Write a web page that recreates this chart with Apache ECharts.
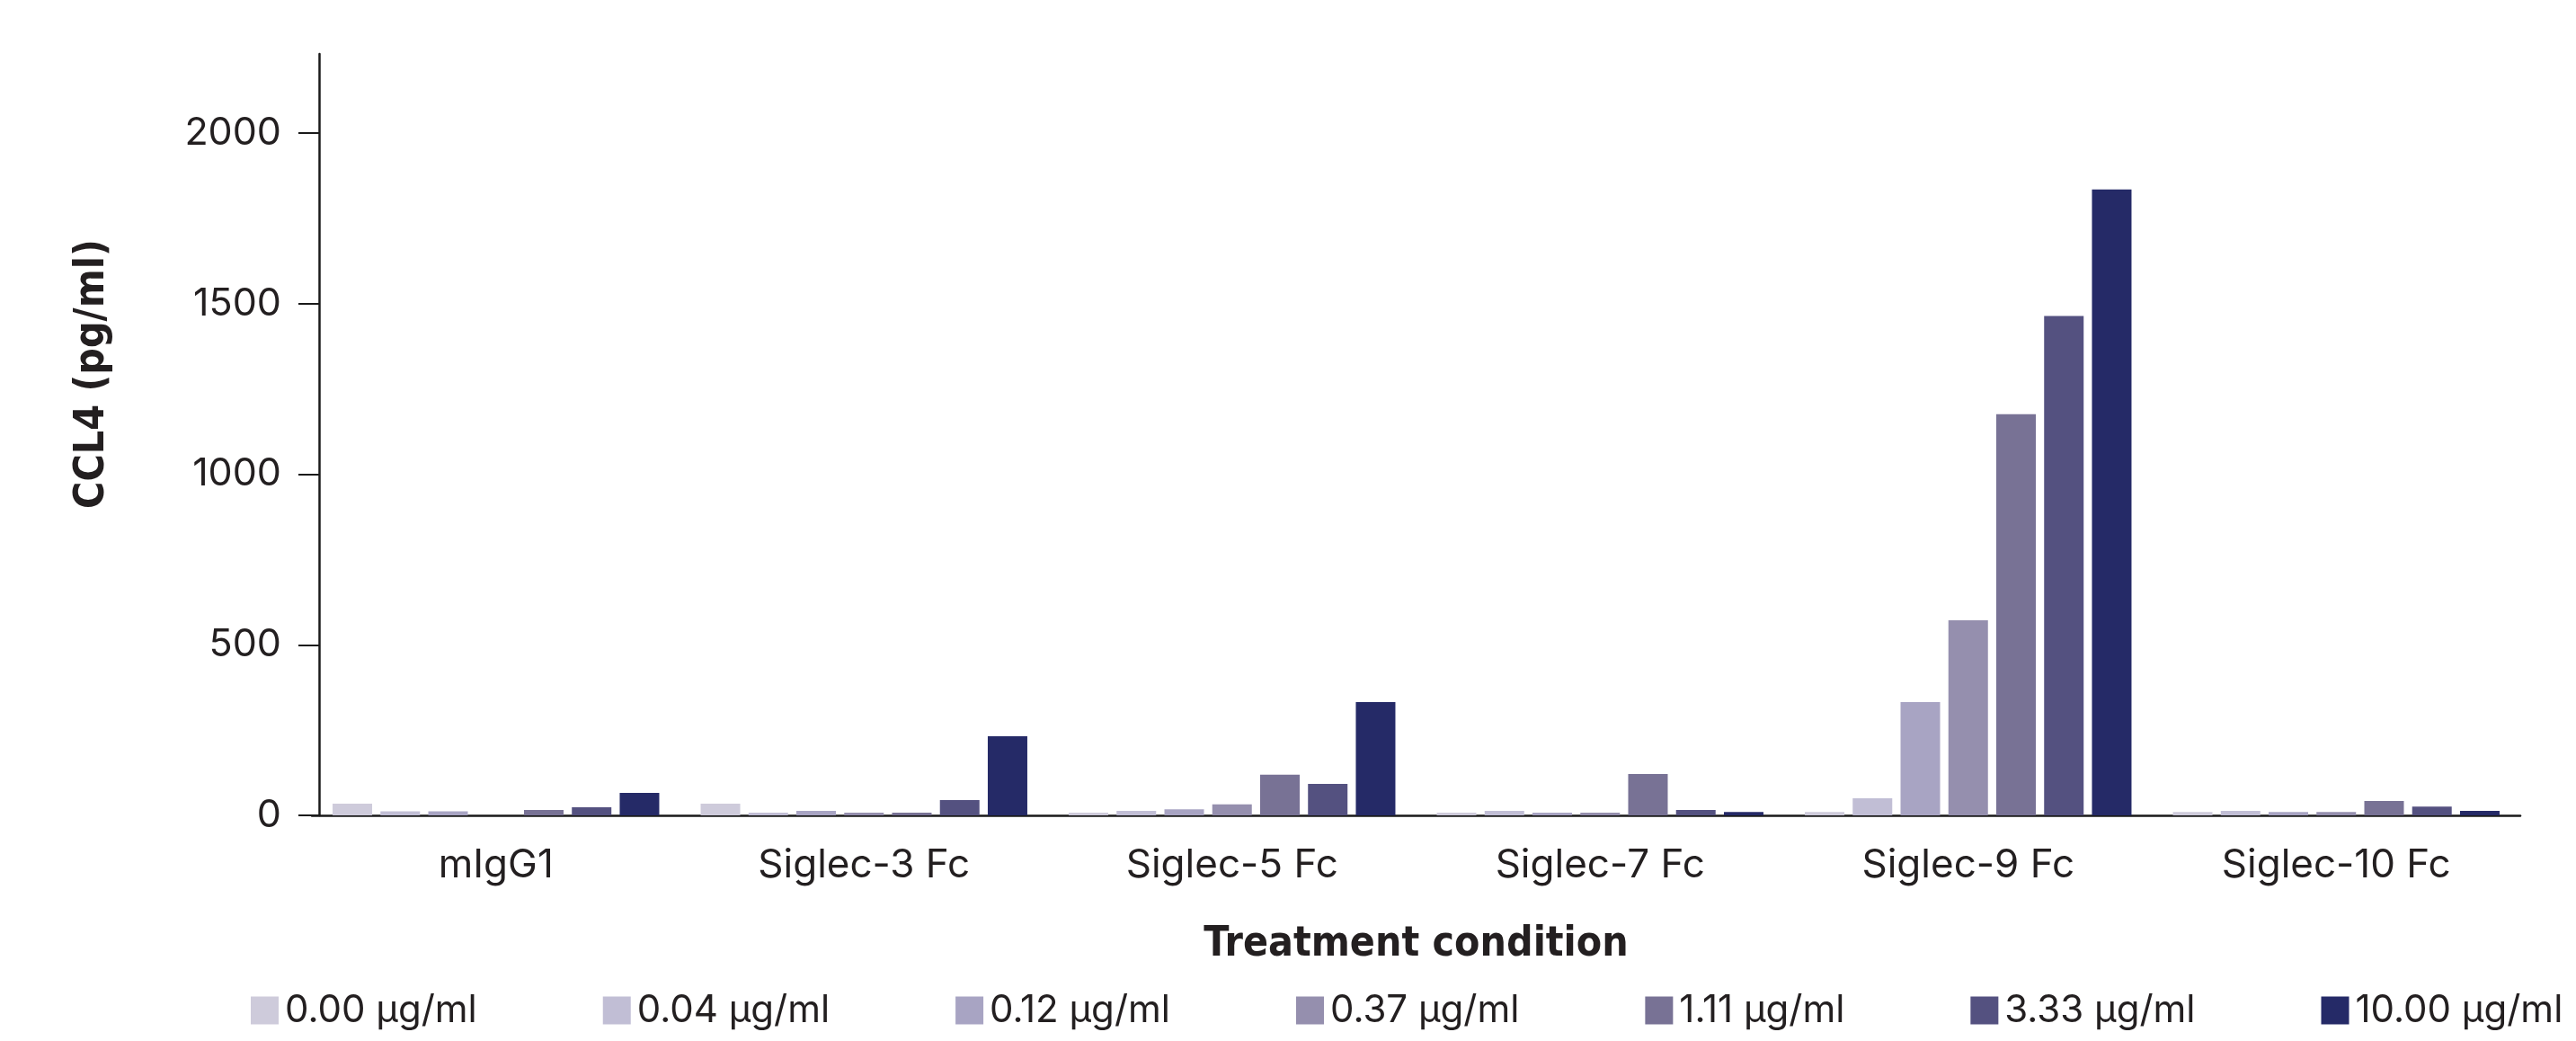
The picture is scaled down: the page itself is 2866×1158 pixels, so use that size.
<!DOCTYPE html>
<html>
<head>
<meta charset="utf-8">
<script src="https://cdn.jsdelivr.net/npm/echarts@6/dist/echarts.min.js"></script>
<style>
  html, body { margin: 0; padding: 0; background: #ffffff; }
  #chart { width: 2866px; height: 1158px; }
</style>
</head>
<body>
<div id="chart"></div>
<script>
// 数据
const categories = ['mIgG1', 'Siglec-3 Fc', 'Siglec-5 Fc', 'Siglec-7 Fc', 'Siglec-9 Fc', 'Siglec-10 Fc'];
const doses = ['0.00 µg/ml', '0.04 µg/ml', '0.12 µg/ml', '0.37 µg/ml', '1.11 µg/ml', '3.33 µg/ml', '10.00 µg/ml'];
const colors = ['#cecbdb', '#c1bed5', '#a8a4c3', '#958fae', '#787295', '#545180', '#252a67'];

// CCL4 (pg/ml)，每个剂量一组，顺序同 categories
const dose000 = [34, 34, 8, 8, 10, 10];
const dose004 = [12, 8, 13, 13, 50, 13];
const dose012 = [12, 13, 18, 8, 332, 10];
const dose037 = [0, 8, 32, 8, 572, 10];
const dose111 = [16, 8, 119, 121, 1176, 42];
const dose333 = [24, 45, 92, 16, 1464, 26];
const dose1000 = [66, 232, 332, 10, 1835, 13];
const doseValues = [dose000, dose004, dose012, dose037, dose111, dose333, dose1000];

const yTicks = [0, 500, 1000, 1500, 2000];

const textColor = '#231f20';
const axisColor = '#1a1a1a';
const boldFont = 'Liberation Sans Narrow, DejaVu Sans Condensed, sans-serif';

const chart = echarts.init(document.getElementById('chart'));

const option = {
    backgroundColor: '#ffffff',
    animation: false,
    grid: {
        left: 347,
        right: 62,
        top: 60,
        bottom: 251
    },
    legend: {
        data: doses,
        left: 274,
        top: 1098,
        width: 2800,
        icon: 'rect',
        itemWidth: 31,
        itemHeight: 31,
        itemGap: 140,
        textStyle: {
            fontFamily: 'Inter',
            fontSize: 42,
            color: textColor,
            padding: [0, 0, 0, 2]
        }
    },
    xAxis: {
        type: 'category',
        data: categories,
        name: 'Treatment condition',
        nameLocation: 'middle',
        nameGap: 121,
        nameTextStyle: {
            fontFamily: boldFont,
            fontWeight: 'bold',
            fontSize: 46,
            color: textColor
        },
        axisLine: { lineStyle: { color: axisColor, width: 2.5 } },
        axisTick: { show: false },
        axisLabel: {
            fontFamily: 'Inter',
            fontSize: 44,
            color: textColor,
            margin: 34
        }
    },
    yAxis: {
        type: 'value',
        min: 0,
        max: 2232,
        offset: -8,
        splitLine: { show: false },
        axisLine: { show: true, lineStyle: { color: axisColor, width: 2.5 } },
        axisTick: {
            show: true,
            length: 23,
            lineStyle: { color: axisColor, width: 2 },
            customValues: yTicks
        },
        axisLabel: {
            fontFamily: 'Inter',
            fontSize: 43,
            color: textColor,
            margin: 42,
            customValues: yTicks,
            formatter: (v) => String(v)
        }
    },
    graphic: [
        {
            type: 'text',
            x: 103,
            y: 416,
            rotation: Math.PI / 2,
            style: {
                text: 'CCL4 (pg/ml)',
                fontFamily: boldFont,
                fontWeight: 'bold',
                fontSize: 46,
                fill: textColor,
                align: 'center',
                verticalAlign: 'middle'
            }
        }
    ],
    series: doses.map((name, i) => ({
        name: name,
        type: 'bar',
        data: doseValues[i],
        barWidth: 44,
        barGap: '21%',
        itemStyle: { color: colors[i] }
    }))
};

chart.setOption(option);
</script>
</body>
</html>
